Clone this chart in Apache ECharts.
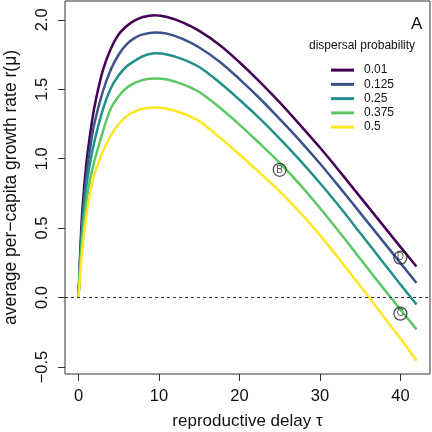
<!DOCTYPE html>
<html>
<head>
<meta charset="utf-8">
<script src="https://cdn.jsdelivr.net/npm/echarts@6/dist/echarts.min.js"></script>
<style>
  html, body { margin: 0; padding: 0; background: #fff; }
  #chart { width: 432px; height: 432px; }
</style>
</head>
<body>
<div id="chart"></div>
<script>
// reproductive delay (x values where curves were read)
const tau = [0, 0.25, 0.5, 1, 1.5, 2, 3, 4, 5, 6, 7, 8, 9.5, 11, 13, 15, 17.5, 20, 22.5, 25, 27.5, 30, 32.5, 35, 37.5, 40, 42];

// average per-capita growth rate, one array per dispersal probability
const r001  = [0, 0.38, 0.65, 0.98, 1.20, 1.38, 1.63, 1.79, 1.895, 1.955, 1.995, 2.02, 2.033, 2.02, 1.98, 1.92, 1.82, 1.694, 1.555, 1.405, 1.245, 1.08, 0.905, 0.725, 0.545, 0.365, 0.224];
const r0125 = [0, 0.33, 0.58, 0.89, 1.10, 1.26, 1.48, 1.64, 1.75, 1.825, 1.87, 1.895, 1.909, 1.90, 1.86, 1.80, 1.70, 1.573, 1.435, 1.285, 1.13, 0.965, 0.79, 0.61, 0.43, 0.25, 0.105];
const r025  = [0, 0.30, 0.52, 0.81, 0.99, 1.13, 1.35, 1.505, 1.60, 1.665, 1.705, 1.737, 1.758, 1.75, 1.715, 1.66, 1.55, 1.424, 1.29, 1.145, 0.99, 0.825, 0.65, 0.465, 0.28, 0.095, -0.05];
const r0375 = [0, 0.27, 0.45, 0.70, 0.87, 0.99, 1.19, 1.36, 1.45, 1.51, 1.545, 1.567, 1.577, 1.57, 1.535, 1.48, 1.37, 1.245, 1.11, 0.97, 0.815, 0.645, 0.465, 0.28, 0.095, -0.085, -0.229];
const r05   = [0, 0.20, 0.36, 0.60, 0.77, 0.89, 1.05, 1.165, 1.25, 1.305, 1.34, 1.36, 1.369, 1.36, 1.325, 1.27, 1.155, 1.03, 0.90, 0.765, 0.615, 0.45, 0.27, 0.085, -0.105, -0.295, -0.454];

const probLabels = ['0.01', '0.125', '0.25', '0.375', '0.5'];
const colors = ['#440154', '#3B528B', '#21908C', '#5DC863', '#FDE725'];

// circled point labels
const markNames = ['B', 'C', 'D'];
const markTau = [25, 40, 40];
const markR = [0.92, -0.115, 0.287];

const xTicks = [0, 10, 20, 30, 40];
const yTicks = [-0.5, 0, 0.5, 1, 1.5, 2];

const chart = echarts.init(document.getElementById('chart'));
const font = 'Liberation Sans, Arial, sans-serif';

const curves = [r001, r0125, r025, r0375, r05];
const series = curves.map((vals, i) => ({
  name: probLabels[i],
  type: 'line',
  data: tau.map((t, j) => [t, vals[j]]),
  showSymbol: false,
  smooth: 0.35,
  lineStyle: { color: colors[i], width: 2.5 },
  itemStyle: { color: colors[i] },
  z: 3,
  silent: true
}));

series[0].markLine = {
  silent: true,
  symbol: ['none', 'none'],
  label: { show: false },
  lineStyle: { color: '#333', type: [3, 3], width: 1 },
  data: [{ yAxis: 0 }]
};

series.push({
  type: 'scatter',
  data: markTau.map((t, i) => ({ value: [t, markR[i]], name: markNames[i] })),
  symbol: 'circle',
  symbolSize: 13,
  itemStyle: { color: 'rgba(255,255,255,0)', borderColor: '#222', borderWidth: 1.3 },
  label: {
    show: true,
    position: 'inside',
    formatter: p => p.name,
    fontFamily: font,
    fontSize: 10,
    color: '#222'
  },
  z: 5,
  silent: true
});

const option = {
  animation: false,
  backgroundColor: '#fff',
  grid: {
    left: 65, right: 2, top: 1, bottom: 58,
    outerBoundsMode: 'none',
    containLabel: false,
    show: true, borderColor: '#333', borderWidth: 1
  },
  legend: {
    data: probLabels,
    orient: 'vertical',
    left: 331,
    top: 63,
    padding: 0,
    icon: 'rect',
    itemWidth: 23,
    itemHeight: 3,
    itemGap: 0,
    textStyle: { fontFamily: font, fontSize: 12, color: '#111', lineHeight: 14.25, padding: [0, 0, 0, 5] }
  },
  graphic: [
    { type: 'text', left: 309, top: 39.5, style: { text: 'dispersal probability', font: '12px ' + font, fill: '#111' } },
    { type: 'text', left: 411, top: 16, style: { text: 'A', font: '17px ' + font, fill: '#111' } }
  ],
  xAxis: {
    type: 'value',
    min: -1.68,
    max: 43.68,
    name: 'reproductive delay τ',
    nameLocation: 'middle',
    nameGap: 39,
    nameTextStyle: { fontFamily: font, fontSize: 17, color: '#111' },
    axisLine: { show: false, onZero: false },
    axisTick: { show: true, inside: false, length: 7, customValues: xTicks, lineStyle: { color: '#333' } },
    axisLabel: { customValues: xTicks, margin: 14, fontFamily: font, fontSize: 16.5, color: '#111' },
    splitLine: { show: false }
  },
  yAxis: {
    type: 'value',
    min: -0.55,
    max: 2.135,
    name: 'average per−capita growth rate r(μ)',
    nameLocation: 'middle',
    nameGap: 45,
    nameTextStyle: { fontFamily: font, fontSize: 17.5, color: '#111' },
    axisLine: { show: false, onZero: false },
    axisTick: { show: true, inside: false, length: 7, customValues: yTicks, lineStyle: { color: '#333' } },
    axisLabel: {
      customValues: yTicks,
      rotate: 90,
      margin: 14,
      fontFamily: font,
      fontSize: 16.5,
      color: '#111',
      formatter: v => (v < 0 ? '−' : '') + Math.abs(v).toFixed(1)
    },
    splitLine: { show: false }
  },
  series: series
};

chart.setOption(option);
</script>
</body>
</html>
